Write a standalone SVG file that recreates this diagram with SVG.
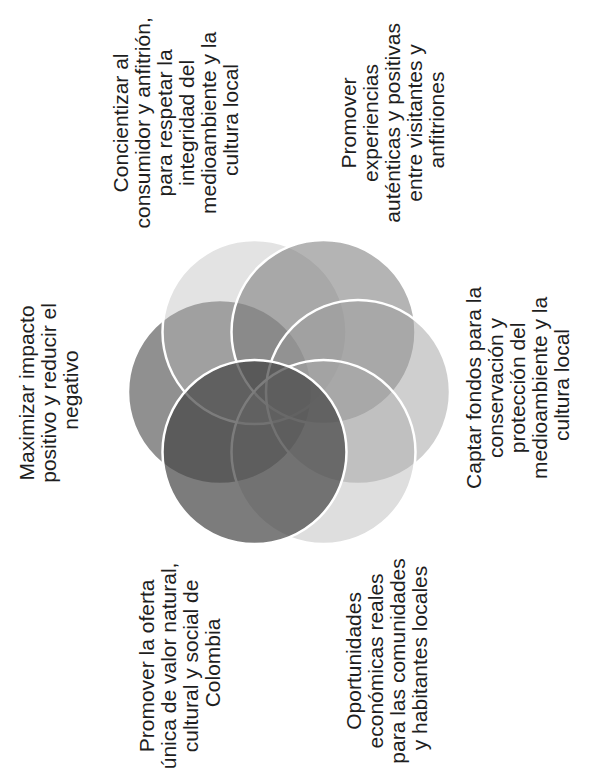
<svg xmlns="http://www.w3.org/2000/svg" width="589" height="772" viewBox="0 0 589 772">
  <style>
    .c { stroke: #ffffff; stroke-width: 2.5; }
    .t { font-family: "Liberation Sans", Arial, sans-serif; font-size: 21px; fill: #1e1e1e; text-anchor: middle; }
  </style>
  <rect width="589" height="772" fill="#ffffff"/>
  <g id="node-maximizar">
    <circle class="c" cx="220" cy="392" r="92" fill="#464646" fill-opacity="0.6"/>
    <text class="t" transform="translate(34,390) rotate(-90)">
      <tspan x="0" dy="0">Maximizar impacto</tspan>
      <tspan x="0" dy="22">positivo y reducir el</tspan>
      <tspan x="0" dy="22">negativo</tspan>
    </text>
  </g>
  <g id="node-concientizar">
    <circle class="c" cx="254.5" cy="332" r="92" fill="#bababa" fill-opacity="0.4"/>
    <text class="t" transform="translate(128,120) rotate(-90)">
      <tspan x="0" dy="0">Concientizar al</tspan>
      <tspan x="0" dy="22">consumidor y anfitrión,</tspan>
      <tspan x="0" dy="22">para respetar la</tspan>
      <tspan x="0" dy="22">integridad del</tspan>
      <tspan x="0" dy="22">medioambiente y la</tspan>
      <tspan x="0" dy="22">cultura local</tspan>
    </text>
  </g>
  <g id="node-experiencias">
    <circle class="c" cx="323.5" cy="332" r="92" fill="#797979" fill-opacity="0.56"/>
    <text class="t" transform="translate(356,120) rotate(-90)">
      <tspan x="0" dy="0">Promover</tspan>
      <tspan x="0" dy="22">experiencias</tspan>
      <tspan x="0" dy="22">auténticas y positivas</tspan>
      <tspan x="0" dy="22">entre visitantes y</tspan>
      <tspan x="0" dy="22">anfitriones</tspan>
    </text>
  </g>
  <g id="node-captar">
    <circle class="c" cx="358" cy="392" r="92" fill="#9b9b9b" fill-opacity="0.48"/>
    <text class="t" transform="translate(481,385) rotate(-90)">
      <tspan x="0" dy="0">Captar fondos para la</tspan>
      <tspan x="0" dy="22">conservación y</tspan>
      <tspan x="0" dy="22">protección del</tspan>
      <tspan x="0" dy="22">medioambiente y la</tspan>
      <tspan x="0" dy="22">cultura local</tspan>
    </text>
  </g>
  <g id="node-oportunidades">
    <circle class="c" cx="323.5" cy="452" r="92" fill="#a8a8a8" fill-opacity="0.38"/>
    <text class="t" transform="translate(361,658) rotate(-90)">
      <tspan x="0" dy="0">Oportunidades</tspan>
      <tspan x="0" dy="22">económicas reales</tspan>
      <tspan x="0" dy="22">para las comunidades</tspan>
      <tspan x="0" dy="22">y habitantes locales</tspan>
    </text>
  </g>
  <g id="node-oferta">
    <circle class="c" cx="254.5" cy="452" r="92" fill="#444444" fill-opacity="0.7"/>
    <text class="t" transform="translate(154,663) rotate(-90)">
      <tspan x="0" dy="0">Promover la oferta</tspan>
      <tspan x="0" dy="22">única de valor natural,</tspan>
      <tspan x="0" dy="22">cultural y social de</tspan>
      <tspan x="0" dy="22">Colombia</tspan>
    </text>
  </g>
  <g id="connectors"></g>
</svg>
